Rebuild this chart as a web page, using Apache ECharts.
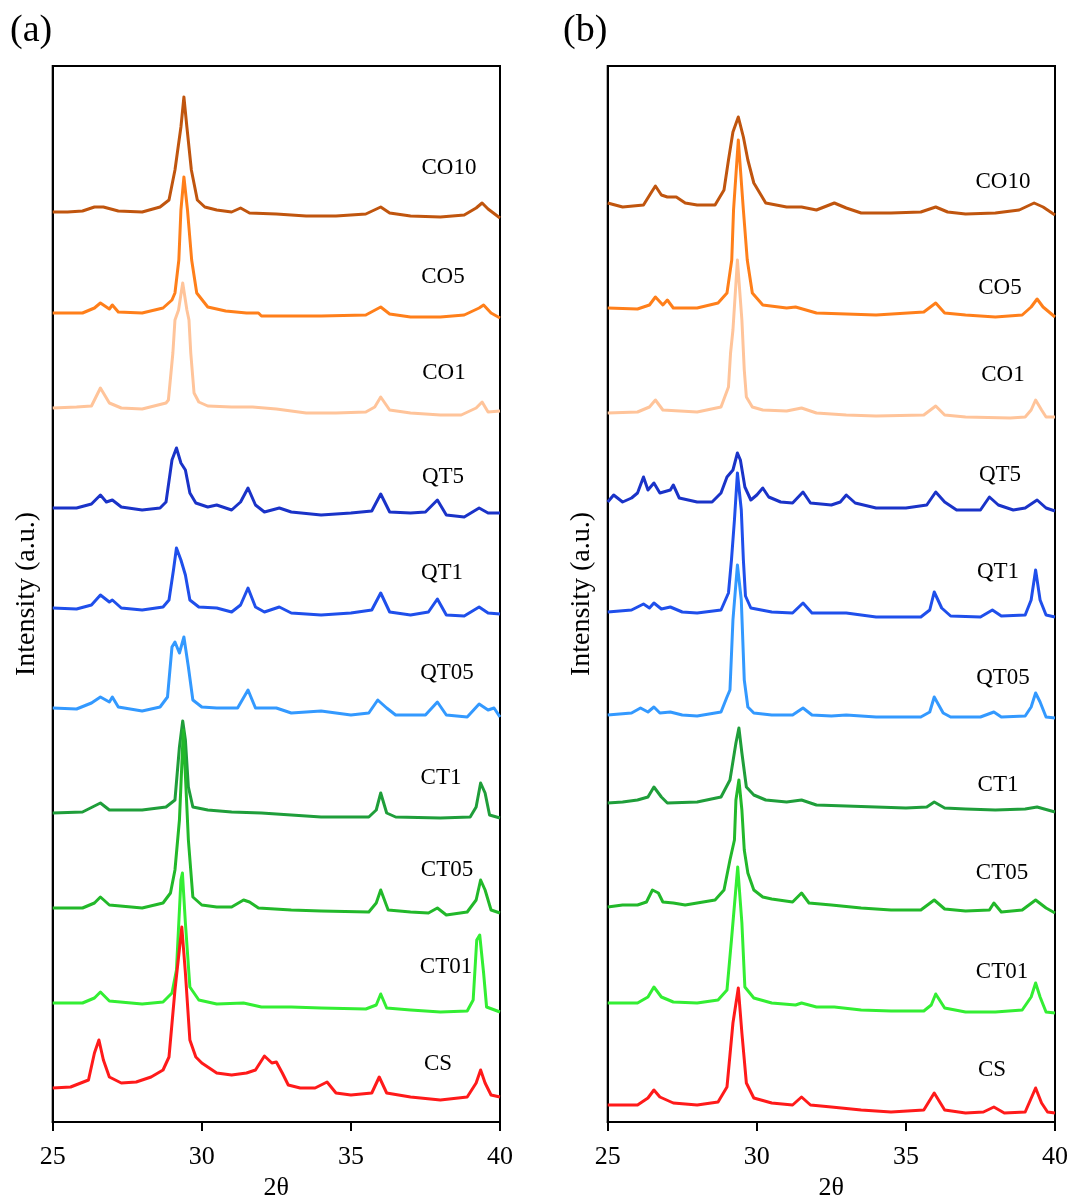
<!DOCTYPE html>
<html>
<head>
<meta charset="utf-8">
<script src="https://cdn.jsdelivr.net/npm/echarts@6/dist/echarts.min.js"></script>
<style>
html,body{margin:0;padding:0;background:#fff;}
#chart{width:1071px;height:1200px;}
</style>
</head>
<body>
<div id="chart"></div>
<script>
// ---- DATA ----
const sampleNames = ['CO10','CO5','CO1','QT5','QT1','QT05','CT1','CT05','CT01','CS'];
const panelNames = ['(a)','(b)'];
const xTicks = [25,30,35,40];

// Panel (a): [2θ, intensity incl. stacking offset]
const a_CO10 = [[25,910],[25.5,910],[26.0,911],[26.4,915],[26.7,915],[27.2,911],[28.0,910],[28.6,915],[28.9,922],[29.1,952],[29.3,995],[29.4,1025],[29.5,995],[29.65,952],[29.85,922],[30.1,915],[30.5,912],[31.0,910],[31.3,914],[31.6,909],[32.5,908],[33.5,906],[34.5,906],[35.5,908],[36.0,915],[36.3,909],[37.0,906],[38.0,905],[38.8,907],[39.2,914],[39.4,919],[39.6,913],[40,904]];
const a_CO5 = [[25,809],[26.0,809],[26.4,814],[26.6,819],[26.9,813],[27.0,817],[27.2,810],[28.0,809],[28.7,814],[29.0,822],[29.1,829],[29.23,862],[29.3,912],[29.4,945],[29.52,912],[29.66,862],[29.83,829],[30.2,815],[30.8,811],[31.5,809],[31.9,809],[32.0,806],[33.0,806],[34.0,806],[35.5,807],[36.0,815],[36.3,808],[37.0,805],[38.0,805],[38.8,807],[39.3,814],[39.45,817],[39.7,809],[40,804]];
const a_CO1 = [[25,714],[25.8,715],[26.3,716],[26.6,734],[26.9,719],[27.3,714],[28.0,713],[28.8,719],[28.88,722],[29.03,769],[29.1,802],[29.22,812],[29.36,839],[29.5,812],[29.57,802],[29.63,769],[29.74,729],[29.9,720],[30.2,716],[31.0,715],[31.7,715],[32.5,713],[33.5,709],[34.5,709],[35.5,710],[35.8,715],[36.0,725],[36.3,712],[37.0,709],[38.0,707],[38.7,707],[39.2,714],[39.4,720],[39.6,710],[40,711]];
const a_QT5 = [[25,614],[25.8,614],[26.3,618],[26.6,627],[26.8,620],[27.0,622],[27.3,615],[28.0,612],[28.6,614],[28.8,620],[29.0,662],[29.15,674],[29.3,659],[29.45,652],[29.6,629],[29.8,619],[30.2,615],[30.5,617],[31.0,612],[31.3,620],[31.55,634],[31.8,617],[32.1,610],[32.6,614],[33.0,610],[34.0,607],[35.0,609],[35.7,611],[36.0,628],[36.3,610],[37.0,609],[37.5,610],[37.9,622],[38.2,607],[38.8,605],[39.3,614],[39.6,609],[40,609]];
const a_QT1 = [[25,514],[25.8,513],[26.3,517],[26.6,527],[26.9,520],[27.0,522],[27.3,514],[28.0,512],[28.7,515],[28.9,522],[29.05,552],[29.15,574],[29.3,562],[29.45,547],[29.6,522],[29.9,515],[30.5,514],[31.0,510],[31.3,517],[31.55,534],[31.8,515],[32.1,510],[32.6,515],[33.0,509],[34.0,507],[35.0,509],[35.7,512],[36.0,529],[36.3,510],[37.0,507],[37.6,510],[37.9,523],[38.2,507],[38.8,506],[39.3,515],[39.6,509],[40,508]];
const a_QT05 = [[25,414],[25.8,413],[26.3,419],[26.6,425],[26.9,420],[27.0,425],[27.2,415],[28.0,411],[28.6,415],[28.85,425],[29.0,475],[29.1,480],[29.25,469],[29.4,485],[29.55,455],[29.7,422],[30.0,415],[30.5,414],[31.2,414],[31.55,432],[31.8,414],[32.5,414],[33.0,409],[34.0,411],[35.0,407],[35.6,409],[35.9,422],[36.2,414],[36.5,407],[37.5,407],[37.9,420],[38.2,407],[38.9,405],[39.3,418],[39.6,412],[39.8,414],[40,405]];
const a_CT1 = [[25,309],[26.0,310],[26.6,319],[26.9,312],[28.0,312],[28.8,315],[29.1,322],[29.25,375],[29.36,401],[29.45,382],[29.55,335],[29.7,315],[30.2,312],[31.0,310],[32.0,309],[33.0,307],[34.0,305],[35.6,305],[35.85,312],[36.0,329],[36.2,309],[36.5,305],[38.0,304],[39.0,305],[39.2,315],[39.35,339],[39.5,329],[39.65,307],[40,304]];
const a_CT05 = [[25,214],[26.0,214],[26.4,219],[26.6,225],[26.9,217],[28.0,214],[28.7,219],[28.95,229],[29.1,252],[29.25,302],[29.38,392],[29.55,282],[29.7,225],[30.0,217],[30.5,215],[31.0,215],[31.4,222],[31.6,220],[31.9,214],[33.0,212],[34.0,211],[35.6,210],[35.85,219],[36.0,232],[36.25,212],[37.0,210],[37.6,209],[37.9,214],[38.2,207],[38.9,210],[39.2,222],[39.35,242],[39.5,232],[39.7,212],[40,209]];
const a_CT01 = [[25,119],[26.0,119],[26.4,124],[26.6,130],[26.9,121],[28.0,118],[28.7,120],[29.0,129],[29.15,152],[29.3,242],[29.35,249],[29.45,199],[29.6,135],[29.9,122],[30.5,118],[31.4,119],[32.0,115],[33.0,115],[34.0,114],[35.5,113],[35.85,117],[36.0,128],[36.2,114],[37.0,112],[38.0,110],[38.9,111],[39.1,122],[39.22,182],[39.32,187],[39.45,149],[39.55,115],[40,110]];
const a_CS = [[25,34],[25.6,35],[26.2,42],[26.4,69],[26.55,82],[26.7,62],[26.9,45],[27.3,39],[27.8,40],[28.3,45],[28.7,52],[28.9,65],[29.1,132],[29.33,195],[29.45,149],[29.6,82],[29.8,65],[30.0,59],[30.5,49],[31.0,47],[31.5,49],[31.8,52],[32.1,66],[32.35,59],[32.5,60],[32.7,49],[32.9,37],[33.3,34],[33.8,34],[34.2,40],[34.5,29],[35.0,27],[35.7,29],[35.95,45],[36.2,29],[37.0,25],[38.0,22],[38.9,25],[39.2,39],[39.35,52],[39.5,39],[39.7,27],[40,25]];

// Panel (b)
const b_CO10 = [[25,919],[25.5,915],[26.2,917],[26.45,929],[26.6,936],[26.8,927],[27.0,925],[27.3,925],[27.6,919],[28.0,917],[28.6,917],[28.9,932],[29.05,962],[29.2,990],[29.38,1005],[29.55,985],[29.7,962],[29.9,939],[30.1,929],[30.3,919],[31.0,915],[31.5,915],[32.0,912],[32.6,919],[33.0,914],[33.5,909],[34.5,909],[35.5,910],[36.0,915],[36.4,910],[37.0,908],[38.0,909],[38.8,912],[39.3,919],[39.6,915],[40,907]];
const b_CO5 = [[25,814],[26.0,813],[26.4,817],[26.6,825],[26.85,817],[27.0,822],[27.2,814],[28.0,814],[28.7,819],[29.0,829],[29.16,862],[29.22,912],[29.38,982],[29.55,912],[29.68,862],[29.85,829],[30.2,817],[31.0,814],[31.3,815],[32.0,809],[33.0,808],[34.0,807],[35.6,810],[36.0,819],[36.3,809],[37.0,807],[38.0,805],[38.9,807],[39.2,815],[39.4,823],[39.6,815],[40,805]];
const b_CO1 = [[25,709],[26.0,710],[26.4,715],[26.6,722],[26.85,712],[28.0,710],[28.8,715],[29.05,735],[29.12,769],[29.2,792],[29.35,862],[29.5,802],[29.58,752],[29.65,725],[29.85,715],[30.2,712],[31.0,711],[31.5,714],[32.0,709],[33.0,707],[34.0,706],[35.6,707],[36.0,716],[36.3,707],[37.0,705],[38.5,704],[39.0,705],[39.2,712],[39.35,722],[39.55,712],[39.7,705],[40,705]];
const b_QT5 = [[25,620],[25.2,627],[25.5,620],[25.8,624],[26.0,629],[26.2,645],[26.35,632],[26.55,639],[26.75,629],[27.1,632],[27.2,637],[27.4,624],[28.0,620],[28.5,620],[28.8,629],[29.0,645],[29.2,652],[29.35,669],[29.45,662],[29.6,635],[29.8,622],[30.0,627],[30.2,634],[30.4,625],[30.8,620],[31.2,619],[31.55,630],[31.8,619],[32.5,617],[32.8,620],[33.0,627],[33.3,619],[34.0,614],[35.0,614],[35.7,617],[36.0,630],[36.3,620],[36.7,612],[37.5,612],[37.8,625],[38.1,617],[38.6,612],[39.0,614],[39.4,622],[39.7,614],[40,611]];
const b_QT1 = [[25,510],[25.8,512],[26.2,518],[26.4,514],[26.55,519],[26.8,513],[27.1,515],[27.5,510],[28.0,509],[28.8,512],[29.05,529],[29.15,562],[29.25,602],[29.35,649],[29.48,612],[29.55,562],[29.62,526],[29.8,514],[30.5,510],[31.2,509],[31.55,519],[31.85,509],[33.0,509],[34.0,505],[35.5,505],[35.8,512],[35.95,530],[36.2,514],[36.5,506],[37.5,505],[37.9,512],[38.2,506],[39.0,507],[39.2,522],[39.35,552],[39.5,522],[39.7,507],[40,505]];
const b_QT05 = [[25,407],[25.8,409],[26.1,414],[26.35,410],[26.55,415],[26.75,409],[27.1,410],[27.5,407],[28.0,406],[28.8,410],[29.0,425],[29.1,432],[29.2,502],[29.35,557],[29.48,522],[29.58,442],[29.7,415],[29.9,409],[30.5,407],[31.2,407],[31.55,414],[31.85,407],[32.5,406],[33.0,407],[34.0,405],[35.5,405],[35.8,410],[35.95,425],[36.25,409],[36.5,405],[37.5,405],[37.95,410],[38.2,405],[39.0,406],[39.2,415],[39.35,429],[39.5,420],[39.7,405],[40,404]];
const b_CT1 = [[25,319],[25.5,320],[26.0,322],[26.35,325],[26.55,335],[26.8,325],[27.0,319],[28.0,320],[28.8,325],[29.1,342],[29.3,379],[29.4,394],[29.5,369],[29.65,335],[29.9,327],[30.3,322],[31.0,320],[31.5,322],[32.0,317],[33.0,316],[34.0,315],[35.0,314],[35.7,315],[35.95,320],[36.3,314],[37.0,313],[38.0,312],[39.0,313],[39.4,315],[40,310]];
const b_CT05 = [[25,215],[25.5,217],[26.0,217],[26.3,220],[26.5,232],[26.7,229],[26.85,220],[27.2,219],[27.6,217],[28.0,219],[28.6,222],[28.9,232],[29.1,262],[29.25,282],[29.3,322],[29.4,342],[29.5,312],[29.58,272],[29.7,249],[29.9,232],[30.2,225],[30.5,223],[31.2,220],[31.5,229],[31.75,219],[32.5,217],[33.5,214],[34.5,212],[35.5,212],[35.95,222],[36.3,213],[37.0,211],[37.8,212],[37.95,219],[38.2,210],[38.9,212],[39.35,222],[39.7,214],[40,209]];
const b_CT01 = [[25,119],[26.0,119],[26.35,125],[26.55,135],[26.8,125],[27.2,120],[28.0,119],[28.7,122],[29.0,132],[29.15,182],[29.36,255],[29.5,199],[29.6,135],[29.9,124],[30.5,119],[31.3,117],[31.5,119],[32.0,115],[32.6,115],[33.5,112],[34.5,111],[35.6,111],[35.85,117],[36.0,128],[36.3,114],[37.0,110],[38.0,110],[38.9,112],[39.2,125],[39.35,139],[39.5,125],[39.7,110],[40,109]];
const b_CS = [[25,17],[26.0,17],[26.35,24],[26.55,32],[26.75,25],[27.2,19],[28.0,17],[28.7,20],[29.0,35],[29.2,99],[29.38,134],[29.5,89],[29.65,39],[29.9,24],[30.5,19],[31.2,17],[31.5,25],[31.8,17],[32.5,15],[33.5,12],[34.5,10],[35.6,12],[35.95,29],[36.3,12],[37.0,9],[37.6,10],[37.95,15],[38.3,9],[39.0,10],[39.35,34],[39.55,19],[39.75,10],[40,9]];

const panelA = [a_CO10,a_CO5,a_CO1,a_QT5,a_QT1,a_QT05,a_CT1,a_CT05,a_CT01,a_CS];
const panelB = [b_CO10,b_CO5,b_CO1,b_QT5,b_QT1,b_QT05,b_CT1,b_CT05,b_CT01,b_CS];

// ---- STYLE ----
const colors = ['#C0550E','#FF7F1A','#FFC49A','#1A33C8','#1F4FEB','#3399FF','#1F9E3A','#22B82A','#33EE33','#FF1A1A'];
const FONT = 'Liberation Serif';
const labelPos = [
  [[449,168],[443,277],[444,373],[443,477],[442,573],[447,673],[441,778],[447,870],[446,967],[438,1064]],
  [[1003,182],[1000,288],[1003,375],[1000,475],[998,572],[1003,678],[998,785],[1002,873],[1002,972],[992,1070]]
];
const grids = [
  {left:52.7, top:66, width:447.3, height:1056},
  {left:607.7, top:66, width:447.3, height:1056}
];

const chart = echarts.init(document.getElementById('chart'));
const series = [];
[panelA, panelB].forEach((panel, p) => {
  panel.forEach((d, i) => {
    series.push({
      type:'line', name: sampleNames[i] + p, xAxisIndex:p, yAxisIndex:p,
      data:d, showSymbol:false, symbol:'none', animation:false,
      lineStyle:{color:colors[i], width:3, join:'round'}
    });
  });
});

const graphic = [];
panelNames.forEach((t, p) => {
  graphic.push({type:'text', left: p===0 ? 10 : 563, top: 12,
    style:{text:t, font:'38px "'+FONT+'"', fill:'#000'}});
  sampleNames.forEach((n, i) => {
    graphic.push({type:'text', x:labelPos[p][i][0], y:labelPos[p][i][1],
      style:{text:n, font:'23px "'+FONT+'"', fill:'#000', textAlign:'center', textVerticalAlign:'middle'}});
  });
});

const option = {
  backgroundColor:'#fff',
  animation:false,
  grid: grids.map(g => Object.assign({show:true, borderColor:'#000', borderWidth:2, backgroundColor:'transparent', containLabel:false, outerBoundsMode:'none'}, g)),
  xAxis: [0,1].map(p => ({
    type:'value', gridIndex:p, min:xTicks[0], max:xTicks[xTicks.length-1], interval:5,
    axisLine:{show:true, lineStyle:{color:'#000', width:2}},
    axisTick:{show:true, inside:false, length:9, lineStyle:{color:'#000', width:2}},
    axisLabel:{color:'#000', fontFamily:FONT, fontSize:26, margin:22},
    splitLine:{show:false},
    name:'2θ', nameLocation:'middle', nameGap:53,
    nameTextStyle:{color:'#000', fontFamily:FONT, fontSize:26}
  })),
  yAxis: [0,1].map(p => ({
    type:'value', gridIndex:p, min:0, max:1056,
    axisLine:{show:true, lineStyle:{color:'#000', width:2}},
    axisTick:{show:false}, axisLabel:{show:false}, splitLine:{show:false},
    name:'Intensity (a.u.)', nameLocation:'middle', nameGap:12,
    nameTextStyle:{color:'#000', fontFamily:FONT, fontSize:28}
  })),
  series: series,
  graphic: graphic
};
chart.setOption(option);
</script>
</body>
</html>
